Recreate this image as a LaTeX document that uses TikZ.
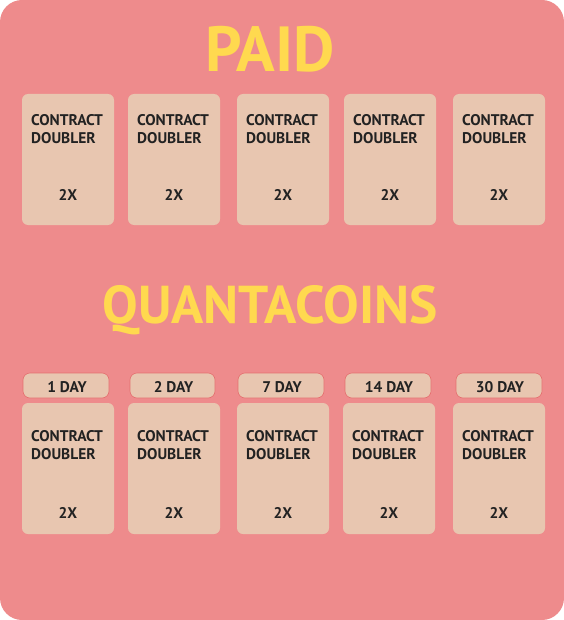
\documentclass[tikz,border=0pt]{standalone}
\usepackage{fontspec}
\setmainfont{PT Sans}
\definecolor{bgpink}{HTML}{EE8B8C}
\definecolor{card}{HTML}{E8C6B0}
\definecolor{ttl}{HTML}{FFD94F}
\definecolor{ink}{HTML}{222222}
\definecolor{rim}{HTML}{E56F6F}
\tikzset{
  cardbox/.style={fill=card, draw=none, rounded corners=6bp},
  pill/.style={fill=card, draw=rim, line width=0.6bp, rounded corners=7bp},
  cardtxt/.style={font=\fontsize{15.5}{18}\selectfont\bfseries, text=ink, inner sep=0pt, anchor=north west, align=left},
  numtxt/.style={font=\fontsize{15.5}{18}\selectfont\bfseries, text=ink, inner sep=0pt, anchor=north},
  title/.style={text=ttl, inner sep=0pt, anchor=north}
}
\begin{document}
\begin{tikzpicture}[x=1bp,y=-1bp]
\useasboundingbox (0,0) rectangle (564,620);
\fill[bgpink, rounded corners=22bp] (0,0) rectangle (564,620);
\node[title, font=\fontsize{64}{64}\selectfont\bfseries] (paid) at (270,26) {PAID};
\node[title, font=\fontsize{53.5}{53.5}\selectfont\bfseries] (quanta) at (270,285) {QUANTACOINS};
\foreach \x [count=\i] in {22,128,237,344,453}{
  \path[cardbox] (\x,94) rectangle ++(92,131);
  \node[cardtxt] (ta\i) at (\x+9,114) {CONTRACT\\DOUBLER};
  \node[numtxt] (na\i) at (\x+46,189) {2X};
}
\foreach \x/\lx/\lw/\lab [count=\i] in {22/23/86/1 DAY,128/130/85/2 DAY,237/238/86/7 DAY,343/345/86/14 DAY,453/456/86/30 DAY}{
  \path[pill] (\lx,373) rectangle ++(\lw,25);
  \node[numtxt] (lb\i) at (\lx+\lw/2+1,381) {\lab};
  \path[cardbox] (\x,403) rectangle ++(92,131);
  \node[cardtxt] (tb\i) at (\x+9,430) {CONTRACT\\DOUBLER};
  \node[numtxt] (nb\i) at (\x+46,507) {2X};
}
\end{tikzpicture}
\end{document}
